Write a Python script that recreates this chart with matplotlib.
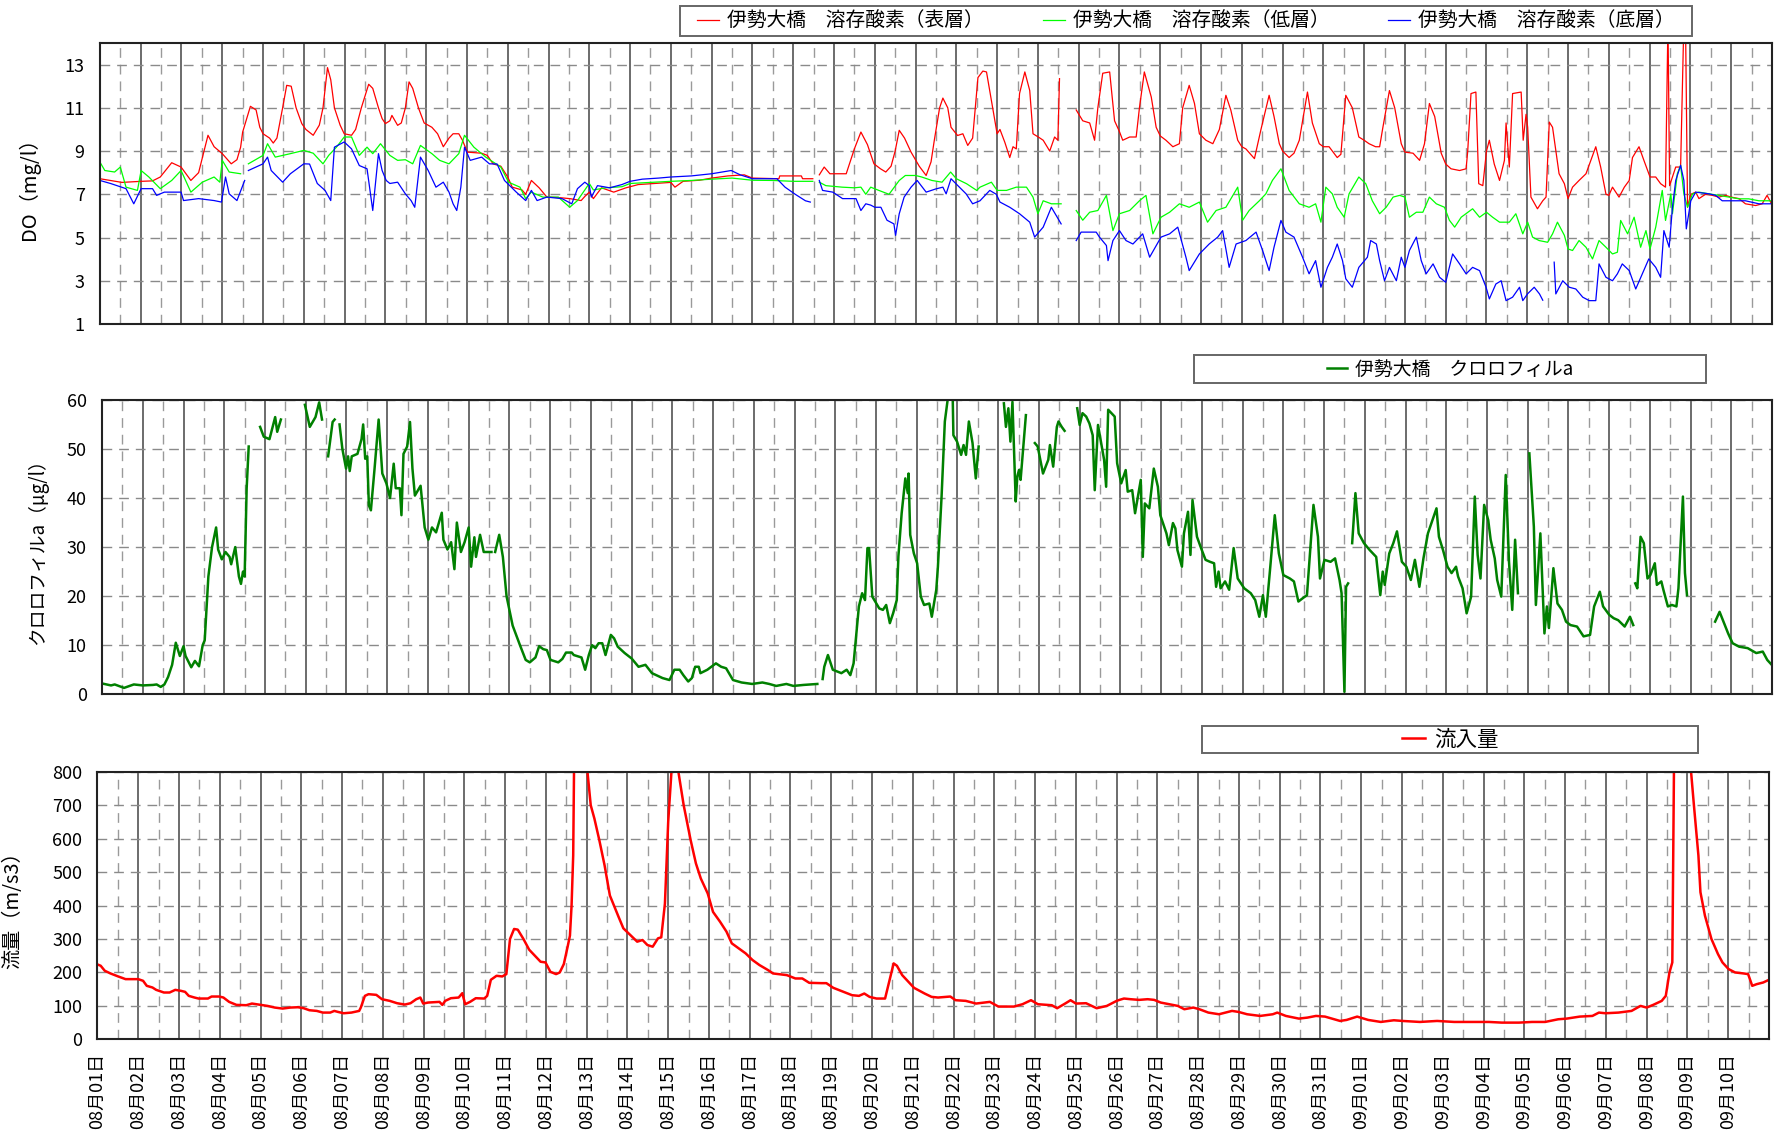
"""
伊勢大橋 水質・流入量 時系列グラフ
"""
import datetime

import numpy as np
import matplotlib
matplotlib.use("Agg")
import matplotlib.pyplot as plt
from matplotlib.patches import Rectangle
from matplotlib.ticker import MultipleLocator

plt.rcParams['font.family'] = ['Noto Sans CJK JP', 'DejaVu Sans']

NA = np.nan
START = datetime.date(2000, 8, 1)
N_DAYS = 41
day_labels = []
for i in range(N_DAYS):
    d = START + datetime.timedelta(days=i)
    day_labels.append(f"{d.month:02d}月{d.day:02d}日")

legend_do = ["伊勢大橋　溶存酸素（表層）", "伊勢大橋　溶存酸素（低層）", "伊勢大橋　溶存酸素（底層）"]
legend_chl = "伊勢大橋　クロロフィルa"
legend_flow = "流入量"

# [経過日数, 値]  (08/01 0時 = 0)
do_surface = [
    (0.00, 7.72), (0.54, 7.55), (1.01, 7.6), (1.29, 7.62), (1.48, 7.8), (1.76, 8.46), (1.99, 8.26),
    (2.23, 7.64), (2.42, 8.0), (2.65, 9.73), (2.80, 9.2), (3.00, 8.88), (3.22, 8.41), (3.36, 8.6),
    (3.45, 9.18), (3.50, 9.88), (3.69, 11.07), (3.83, 10.9), (3.92, 10.1), (4.00, 9.8), (4.16, 9.6),
    (4.25, 9.37), (4.34, 9.6), (4.48, 11.0), (4.58, 12.04), (4.69, 12.0), (4.81, 11.0), (4.95, 10.27),
    (5.05, 10.0), (5.23, 9.73), (5.38, 10.2), (5.47, 11.0), (5.58, 12.86), (5.66, 12.3), (5.75, 11.0),
    (5.89, 10.2), (5.99, 9.8), (6.17, 9.73), (6.27, 10.0), (6.41, 11.0), (6.59, 12.09), (6.69, 11.9),
    (6.83, 11.0), (6.92, 10.5), (7.00, 10.27), (7.11, 10.4), (7.16, 10.65), (7.30, 10.19), (7.39, 10.3),
    (7.49, 11.0), (7.58, 12.2), (7.67, 11.9), (7.81, 11.0), (7.95, 10.3), (8.14, 10.1), (8.28, 9.8),
    (8.42, 9.2), (8.56, 9.6), (8.66, 9.8), (8.80, 9.8), (8.89, 9.5), (9.01, 8.95), (9.36, 8.9),
    (9.50, 8.8), (9.64, 8.41), (9.83, 8.3), (10.00, 7.8), (10.11, 7.33), (10.35, 7.2), (10.44, 7.0),
    (10.58, 7.64), (10.77, 7.3), (10.96, 6.87), (11.24, 6.85), (11.52, 6.8), (11.80, 6.71), (11.89, 6.9),
    (12.00, 7.1), (12.1, 6.8), (12.3, 7.3), (12.6, 7.1), (12.9, 7.3), (13.2, 7.45), (13.6, 7.5),
    (14.0, 7.55), (14.1, 7.33), (14.3, 7.6), (14.7, 7.65), (15.0, 7.75), (15.4, 7.85), (15.8, 7.9),
    (16.0, 7.75), (16.65, 7.72), (16.67, 7.85), (17.2, 7.85), (17.23, 7.72), (17.48, 7.72), (17.56, NA),
    (17.64, 7.9), (17.76, 8.26), (17.9, 7.95), (18.3, 7.95), (18.5, 9.1), (18.66, 9.88), (18.82, 9.3),
    (18.98, 8.41), (19.14, 8.18), (19.27, 8.03), (19.4, 8.3), (19.5, 9.0), (19.6, 9.96), (19.73, 9.6),
    (19.89, 8.95), (20.09, 8.3), (20.26, 7.87), (20.38, 8.5), (20.46, 9.5), (20.59, 11.0), (20.67, 11.45),
    (20.79, 11.0), (20.87, 10.1), (21.03, 9.72), (21.16, 9.8), (21.28, 9.26), (21.4, 9.6), (21.53, 12.4),
    (21.65, 12.7), (21.74, 12.66), (21.9, 10.9), (22.0, 9.8), (22.07, 10.0), (22.19, 9.4), (22.31, 8.7),
    (22.39, 9.2), (22.47, 9.1), (22.55, 11.66), (22.68, 12.66), (22.8, 11.8), (22.88, 9.8), (23.01, 9.65),
    (23.13, 9.5), (23.29, 9.0), (23.41, 9.65), (23.49, 9.5), (23.53, 12.35), (23.7, NA), (23.94, 10.9),
    (24.1, 10.4), (24.27, 10.3), (24.39, 9.5), (24.47, 11.0), (24.59, 12.6), (24.76, 12.66), (24.88, 10.4),
    (25.0, 9.9), (25.08, 9.5), (25.25, 9.65), (25.41, 9.65), (25.49, 11.0), (25.61, 12.66), (25.78, 11.5),
    (25.9, 10.1), (26.0, 9.7), (26.14, 9.5), (26.31, 9.2), (26.47, 9.34), (26.55, 11.0), (26.71, 12.04),
    (26.84, 11.2), (26.96, 9.8), (27.12, 9.5), (27.29, 9.34), (27.45, 10.0), (27.61, 11.58), (27.73, 10.9),
    (27.9, 9.5), (28.0, 9.2), (28.1, 9.1), (28.31, 8.65), (28.47, 10.0), (28.67, 11.58), (28.79, 10.6),
    (28.92, 9.34), (29.0, 9.0), (29.16, 8.7), (29.28, 8.9), (29.41, 9.5), (29.61, 11.73), (29.73, 10.3),
    (29.9, 9.34), (30.0, 9.2), (30.14, 9.2), (30.34, 8.7), (30.43, 8.85), (30.55, 11.58), (30.71, 11.0),
    (30.87, 9.65), (31.0, 9.5), (31.12, 9.34), (31.28, 9.2), (31.38, 9.2), (31.46, 10.1), (31.62, 11.8),
    (31.75, 11.0), (31.91, 9.34), (32.0, 8.95), (32.2, 8.9), (32.36, 8.57), (32.48, 9.34), (32.6, 11.2),
    (32.73, 10.6), (32.89, 8.9), (33.0, 8.4), (33.13, 8.18), (33.34, 8.1), (33.5, 8.18), (33.54, 9.0),
    (33.62, 11.66), (33.74, 11.73), (33.81, 7.49), (33.91, 7.4), (34.0, 9.0), (34.07, 9.5), (34.19, 8.4),
    (34.32, 7.64), (34.44, 8.57), (34.48, 10.3), (34.56, 8.26), (34.64, 11.66), (34.85, 11.73), (34.9, 9.5),
    (34.97, 10.7), (35.01, 10.1), (35.09, 6.87), (35.25, 6.33), (35.38, 6.7), (35.46, 6.87), (35.54, 10.34),
    (35.62, 10.1), (35.78, 7.95), (35.91, 7.49), (36.0, 6.8), (36.11, 7.33), (36.27, 7.64), (36.44, 7.95),
    (36.68, 9.2), (36.8, 8.26), (36.93, 7.0), (37.0, 6.95), (37.09, 7.33), (37.25, 6.87), (37.38, 7.33),
    (37.5, 7.64), (37.58, 8.7), (37.74, 9.2), (37.86, 8.57), (38.01, 7.8), (38.15, 7.8), (38.27, 7.49),
    (38.39, 7.33), (38.45, 15.0), (38.49, 7.4), (38.64, 8.26), (38.76, 8.26), (38.84, 15.0), (38.88, 15.0),
    (38.93, 6.4), (39.01, 7.0), (39.13, 7.1), (39.21, 6.8), (39.37, 7.0), (39.54, 6.95), (39.7, 6.87),
    (39.86, 6.95), (40.0, 6.87), (40.19, 6.8), (40.35, 6.56), (40.6, 6.48), (40.76, 6.56), (40.88, 6.95),
    (40.99, 6.56),
]

do_lower = [
    (0.0, 8.49), (0.12, 8.1), (0.36, 8.03), (0.5, 8.26), (0.64, 7.33), (0.92, 7.18), (1.01, 8.1),
    (1.2, 7.8), (1.48, 7.26), (1.76, 7.64), (1.99, 8.1), (2.23, 7.1), (2.51, 7.56), (2.8, 7.8),
    (2.94, 7.56), (3.0, 8.57), (3.17, 8.03), (3.45, 7.95), (3.55, NA), (3.64, 8.41), (4.0, 8.8),
    (4.11, 9.34), (4.3, 8.72), (4.67, 8.88), (5.0, 9.03), (5.23, 8.9), (5.47, 8.41), (5.61, 8.8),
    (5.8, 9.18), (5.99, 9.65), (6.17, 9.65), (6.36, 8.8), (6.55, 9.18), (6.69, 8.88), (6.88, 9.34),
    (7.11, 8.8), (7.3, 8.57), (7.49, 8.6), (7.67, 8.41), (7.86, 9.26), (8.14, 8.88), (8.33, 8.57),
    (8.56, 8.41), (8.8, 8.88), (8.94, 9.73), (9.17, 9.18), (9.46, 8.72), (9.83, 8.26), (10.02, 7.56),
    (10.3, 7.33), (10.44, 6.8), (10.58, 7.1), (10.86, 6.87), (11.24, 6.87), (11.52, 6.4), (11.71, 6.71),
    (12.0, 7.5), (12.1, 7.2), (12.4, 7.3), (12.8, 7.35), (13.0, 7.5), (13.5, 7.55), (14.0, 7.6),
    (14.5, 7.64), (15.0, 7.7), (15.5, 7.75), (16.0, 7.65), (16.5, 7.64), (17.0, 7.6), (17.48, 7.6),
    (17.56, NA), (17.64, 7.56), (17.8, 7.4), (18.2, 7.33), (18.5, 7.3), (18.66, 7.33), (18.78, 7.0),
    (18.9, 7.33), (19.1, 7.18), (19.35, 7.0), (19.6, 7.64), (19.75, 7.87), (20.0, 7.87), (20.15, 7.8),
    (20.4, 7.64), (20.65, 7.56), (20.86, 8.03), (21.0, 7.72), (21.25, 7.49), (21.5, 7.18), (21.58, 7.33),
    (21.86, 7.56), (22.0, 7.18), (22.23, 7.18), (22.47, 7.33), (22.72, 7.33), (22.88, 6.87), (23.0, 6.1),
    (23.13, 6.7), (23.33, 6.56), (23.57, 6.56), (23.7, NA), (23.94, 6.25), (24.1, 5.8), (24.27, 6.17),
    (24.47, 6.25), (24.68, 6.95), (24.84, 5.32), (25.0, 6.1), (25.25, 6.25), (25.49, 6.7), (25.65, 6.95),
    (25.82, 5.17), (26.02, 5.94), (26.23, 6.17), (26.47, 6.56), (26.71, 6.4), (26.96, 6.64), (27.16, 5.71),
    (27.37, 6.25), (27.61, 6.4), (27.9, 7.33), (28.02, 5.8), (28.18, 6.25), (28.43, 6.7), (28.59, 7.02),
    (28.75, 7.64), (28.96, 8.18), (29.16, 7.18), (29.41, 6.56), (29.65, 6.4), (29.81, 6.56), (29.94, 5.71),
    (30.06, 7.33), (30.22, 7.02), (30.34, 6.4), (30.51, 5.94), (30.63, 7.02), (30.87, 7.8), (31.04, 7.49),
    (31.2, 6.7), (31.38, 6.1), (31.54, 6.4), (31.71, 6.87), (31.87, 6.95), (32.0, 6.87), (32.11, 5.94),
    (32.28, 6.17), (32.44, 6.17), (32.6, 6.87), (32.77, 6.56), (32.97, 6.4), (33.09, 5.8), (33.22, 5.48),
    (33.38, 5.94), (33.66, 6.33), (33.83, 5.94), (34.0, 6.17), (34.15, 5.94), (34.32, 5.71), (34.56, 5.71),
    (34.72, 6.1), (34.89, 5.17), (35.01, 5.71), (35.13, 5.02), (35.29, 4.86), (35.5, 4.78), (35.62, 5.17),
    (35.74, 5.71), (35.91, 5.1), (36.0, 4.47), (36.11, 4.4), (36.27, 4.86), (36.44, 4.55), (36.6, 4.01),
    (36.76, 4.86), (36.93, 4.55), (37.09, 4.24), (37.21, 4.32), (37.29, 5.79), (37.46, 5.17), (37.62, 5.94),
    (37.78, 4.55), (37.91, 5.32), (38.01, 4.47), (38.15, 5.48), (38.31, 7.18), (38.39, 5.79), (38.52, 7.02),
    (38.56, 6.1), (38.68, 7.95), (38.76, 8.34), (38.84, 7.02), (38.93, 6.4), (39.05, 7.02), (39.21, 7.1),
    (39.46, 7.02), (39.7, 6.95), (39.94, 6.87), (40.19, 6.79), (40.43, 6.79), (40.68, 6.7), (40.99, 6.7),
]

do_bottom = [
    (0.0, 7.64), (0.26, 7.5), (0.64, 7.26), (0.83, 6.56), (1.01, 7.26), (1.29, 7.26), (1.39, 6.95),
    (1.58, 7.1), (1.99, 7.1), (2.05, 6.71), (2.42, 6.8), (2.8, 6.71), (2.98, 6.64), (3.08, 7.8),
    (3.17, 7.02), (3.36, 6.71), (3.55, 7.64), (3.6, NA), (3.64, 8.1), (4.0, 8.41), (4.11, 8.72),
    (4.2, 8.1), (4.48, 7.56), (4.67, 7.95), (5.0, 8.41), (5.14, 8.4), (5.33, 7.5), (5.52, 7.18),
    (5.66, 6.71), (5.75, 9.18), (5.99, 9.42), (6.17, 9.1), (6.36, 8.33), (6.55, 8.18), (6.69, 6.25),
    (6.83, 8.88), (6.92, 8.1), (7.02, 7.64), (7.11, 7.5), (7.3, 7.56), (7.49, 7.02), (7.63, 6.71),
    (7.72, 6.4), (7.86, 8.72), (8.05, 8.1), (8.24, 7.33), (8.42, 7.56), (8.56, 7.1), (8.66, 6.56),
    (8.75, 6.25), (8.85, 7.33), (8.94, 9.18), (9.08, 8.57), (9.36, 8.72), (9.55, 8.41), (9.74, 8.4),
    (9.92, 7.64), (10.21, 7.1), (10.44, 6.71), (10.58, 7.18), (10.72, 6.71), (10.96, 6.87), (11.33, 6.8),
    (11.57, 6.56), (11.71, 7.26), (11.89, 7.56), (12.0, 7.4), (12.05, 6.87), (12.2, 7.4), (12.5, 7.3),
    (12.8, 7.45), (13.0, 7.6), (13.3, 7.7), (13.7, 7.75), (14.0, 7.8), (14.5, 7.85), (15.0, 7.95),
    (15.48, 8.1), (15.7, 7.9), (16.0, 7.72), (16.6, 7.72), (16.8, 7.33), (17.05, 7.0), (17.3, 6.7),
    (17.42, 6.64), (17.56, NA), (17.64, 7.64), (17.72, 7.18), (17.97, 7.1), (18.21, 6.8), (18.54, 6.8),
    (18.66, 6.25), (18.78, 6.56), (18.9, 6.5), (19.0, 6.4), (19.15, 6.4), (19.3, 5.8), (19.47, 5.63),
    (19.51, 5.1), (19.6, 6.1), (19.72, 6.87), (19.89, 7.33), (20.04, 7.64), (20.26, 7.1), (20.5, 7.25),
    (20.67, 7.33), (20.75, 7.02), (20.87, 7.72), (20.99, 7.49), (21.24, 7.02), (21.4, 6.56), (21.58, 6.7),
    (21.82, 7.18), (21.98, 7.0), (22.07, 6.64), (22.31, 6.4), (22.55, 6.1), (22.8, 5.71), (22.92, 5.02),
    (23.13, 5.48), (23.33, 6.4), (23.57, 5.63), (23.7, NA), (23.94, 4.86), (24.06, 5.25), (24.43, 5.25),
    (24.51, 5.02), (24.68, 4.63), (24.72, 3.93), (24.84, 4.86), (25.0, 5.32), (25.16, 4.86), (25.33, 4.7),
    (25.57, 5.17), (25.74, 4.09), (26.02, 5.02), (26.23, 5.17), (26.43, 5.48), (26.63, 4.09), (26.71, 3.47),
    (26.96, 4.24), (27.2, 4.7), (27.41, 5.02), (27.53, 5.32), (27.69, 3.62), (27.86, 4.7), (28.1, 4.86),
    (28.35, 5.25), (28.51, 4.4), (28.67, 3.47), (28.79, 4.55), (28.96, 5.79), (29.08, 5.25), (29.28, 5.02),
    (29.49, 4.09), (29.65, 3.32), (29.81, 3.93), (29.94, 2.7), (30.1, 3.62), (30.22, 4.09), (30.34, 4.7),
    (30.47, 3.93), (30.55, 3.09), (30.71, 2.7), (30.87, 3.62), (31.08, 4.09), (31.16, 4.86), (31.3, 4.7),
    (31.38, 3.93), (31.5, 3.0), (31.62, 3.62), (31.79, 3.0), (31.91, 4.09), (32.0, 3.62), (32.11, 4.4),
    (32.28, 5.02), (32.4, 3.93), (32.52, 3.32), (32.69, 3.78), (32.85, 3.16), (33.0, 2.93), (33.17, 4.24),
    (33.34, 3.78), (33.5, 3.32), (33.66, 3.62), (33.83, 3.47), (33.99, 2.7), (34.07, 2.16), (34.23, 2.85),
    (34.36, 3.0), (34.48, 2.08), (34.64, 2.24), (34.81, 2.7), (34.89, 2.08), (35.01, 2.4), (35.17, 2.7),
    (35.3, 2.39), (35.38, 2.1), (35.5, NA), (35.66, 3.86), (35.7, 2.39), (35.87, 3.0), (36.03, 2.7),
    (36.19, 2.62), (36.36, 2.24), (36.52, 2.08), (36.68, 2.08), (36.76, 3.78), (36.93, 3.16), (37.09, 3.0),
    (37.21, 3.32), (37.33, 3.78), (37.5, 3.47), (37.66, 2.62), (37.82, 3.32), (37.98, 4.01), (38.15, 3.62),
    (38.27, 3.16), (38.35, 5.32), (38.48, 4.55), (38.56, 6.4), (38.64, 7.64), (38.76, 8.34), (38.84, 7.64),
    (38.9, 5.4), (39.01, 6.7), (39.13, 7.1), (39.46, 7.02), (39.62, 6.95), (39.78, 6.7), (40.03, 6.7),
    (40.35, 6.7), (40.68, 6.56), (40.99, 6.56),
]

chlorophyll = [
    (0.0, 2.2), (0.22, 1.8), (0.31, 2.0), (0.54, 1.3), (0.78, 2.0), (1.0, 1.8), (1.25, 1.9), (1.34, 2.0),
    (1.44, 1.5), (1.53, 2.0), (1.62, 3.5), (1.72, 6.0), (1.81, 10.5), (1.91, 7.8), (2.0, 9.8), (2.05, 7.8),
    (2.19, 5.5), (2.28, 6.8), (2.38, 5.7), (2.47, 10.0), (2.52, 11.0), (2.61, 24.0), (2.7, 30.0),
    (2.8, 34.0), (2.85, 29.5), (2.94, 27.5), (3.03, 29.0), (3.13, 28.0), (3.17, 26.5), (3.27, 30.0),
    (3.36, 24.0), (3.41, 22.5), (3.46, 25.0), (3.5, 24.0), (3.55, 42.0), (3.6, 50.5), (3.7, NA),
    (3.88, 54.5), (3.97, 52.5), (4.11, 52.0), (4.25, 56.5), (4.3, 53.5), (4.39, 56.0), (4.6, NA),
    (4.98, 59.0), (5.1, 54.5), (5.24, 56.5), (5.33, 59.5), (5.4, 56.0), (5.5, NA),
    (5.55, 48.5), (5.66, 55.5), (5.71, 56.0), (5.77, NA),
    (5.83, 55.0), (5.9, 50.0), (5.99, 46.0), (6.04, 48.5), (6.08, 45.5), (6.13, 48.5), (6.27, 49.0),
    (6.37, 52.0), (6.41, 55.0), (6.46, 48.0), (6.51, 48.5), (6.55, 38.5), (6.6, 37.5), (6.69, 46.0),
    (6.79, 56.0), (6.88, 45.0), (6.98, 43.0), (7.07, 40.0), (7.16, 47.0), (7.21, 42.0), (7.31, 42.0),
    (7.35, 36.5), (7.4, 49.0), (7.49, 50.5), (7.56, 55.5), (7.62, 46.0), (7.68, 40.5), (7.82, 42.5),
    (7.92, 34.0), (8.01, 31.5), (8.1, 34.0), (8.2, 33.0), (8.34, 37.0), (8.38, 31.5), (8.48, 29.5),
    (8.57, 31.0), (8.65, 25.5), (8.71, 35.0), (8.81, 29.0), (8.9, 31.0), (9.0, 34.0), (9.06, 26.0),
    (9.14, 32.0), (9.18, 28.0), (9.28, 32.5), (9.37, 29.0), (9.56, 29.0), (9.6, NA), (9.65, 29.0),
    (9.75, 32.5), (9.84, 28.0), (9.93, 20.0), (10.08, 14.0), (10.26, 10.0), (10.4, 7.0), (10.5, 6.5),
    (10.64, 7.5), (10.73, 9.8), (10.83, 9.2), (10.92, 9.0), (11.01, 7.0), (11.2, 6.5), (11.3, 7.2),
    (11.39, 8.5), (11.53, 8.5), (11.58, 8.0), (11.77, 7.5), (11.86, 5.0), (11.95, 8.0),
    (12.03, 10.0), (12.11, 9.4), (12.19, 10.4), (12.28, 10.4), (12.36, 8.0), (12.49, 12.1), (12.57, 11.4),
    (12.66, 9.7), (12.83, 8.4), (13.0, 7.3), (13.17, 5.6), (13.34, 6.0), (13.5, 4.3), (13.76, 3.3),
    (13.93, 2.9), (14.05, 5.0), (14.18, 5.0), (14.27, 3.9), (14.39, 2.6), (14.48, 3.3), (14.56, 5.6),
    (14.65, 5.6), (14.69, 4.3), (14.86, 5.0), (15.07, 6.3), (15.2, 5.6), (15.32, 5.3), (15.49, 2.9),
    (15.7, 2.4), (15.96, 2.1), (16.21, 2.4), (16.38, 2.1), (16.55, 1.7), (16.8, 2.1), (16.97, 1.7),
    (17.22, 1.9), (17.56, 2.1), (17.62, NA),
    (17.69, 3.1), (17.73, 5.6), (17.82, 8.0), (17.94, 5.0), (18.15, 4.3), (18.28, 5.0), (18.37, 3.9),
    (18.45, 6.3), (18.58, 17.9), (18.66, 20.6), (18.73, 19.2), (18.79, 29.8), (18.83, 29.8), (18.91, 19.9),
    (19.08, 17.5), (19.17, 17.2), (19.25, 18.2), (19.34, 14.5), (19.42, 16.5), (19.51, 19.2), (19.55, 28.1),
    (19.63, 36.9), (19.72, 44.0), (19.78, 41.0), (19.8, 45.0), (19.84, 32.5), (19.93, 28.7), (20.01, 26.7),
    (20.1, 19.9), (20.18, 18.2), (20.31, 18.5), (20.37, 15.8), (20.48, 21.3), (20.52, 26.0), (20.61, 40.3),
    (20.69, 55.6), (20.79, 62.0), (20.88, 62.0), (20.9, 52.8), (20.99, 51.5), (21.09, 48.8), (21.15, 50.8),
    (21.21, 48.8), (21.28, 55.6), (21.37, 51.2), (21.45, 44.0), (21.52, 50.5), (21.9, NA),
    (22.14, 59.3), (22.19, 54.5), (22.25, 58.3), (22.3, 51.5), (22.35, 59.6), (22.43, 39.3), (22.47, 44.4),
    (22.51, 45.7), (22.55, 43.7), (22.68, 56.9), (22.8, NA),
    (22.9, 51.2), (22.97, 50.5), (23.1, 45.0), (23.23, 47.8), (23.27, 50.8), (23.35, 46.4), (23.44, 54.5),
    (23.48, 55.6), (23.56, 54.5), (23.63, 53.7), (23.8, NA),
    (23.94, 58.3), (24.0, 54.9), (24.07, 57.3), (24.16, 56.6), (24.24, 55.2), (24.32, 52.8), (24.37, 41.6),
    (24.45, 54.9), (24.6, 47.8), (24.65, 42.3), (24.7, 58.0), (24.86, 56.6), (24.92, 47.1), (25.02, 43.0),
    (25.13, 45.7), (25.18, 41.3), (25.29, 41.6), (25.36, 36.9), (25.5, 43.7), (25.55, 28.0), (25.6, 38.9),
    (25.71, 37.9), (25.82, 46.0), (25.92, 42.3), (25.98, 36.5), (26.13, 32.8), (26.19, 30.4), (26.29, 34.9),
    (26.35, 33.8), (26.4, 29.4), (26.51, 26.0), (26.56, 32.8), (26.66, 37.2), (26.72, 28.4), (26.77, 39.6),
    (26.88, 32.1), (26.98, 29.8), (27.09, 27.4), (27.2, 27.0), (27.3, 26.7), (27.35, 21.9), (27.41, 25.0),
    (27.46, 21.6), (27.57, 23.0), (27.67, 21.3), (27.78, 29.8), (27.88, 23.6), (28.04, 21.6), (28.2, 20.6),
    (28.31, 19.2), (28.41, 15.8), (28.5, 20.2), (28.57, 15.8), (28.68, 26.0), (28.79, 36.5), (28.89, 28.7),
    (29.0, 24.3), (29.16, 23.6), (29.26, 23.0), (29.37, 18.9), (29.48, 19.6), (29.58, 20.2), (29.74, 38.6),
    (29.85, 32.1), (29.9, 23.6), (30.01, 27.4), (30.16, 27.0), (30.27, 27.7), (30.38, 23.3), (30.43, 20.6),
    (30.5, 0.5), (30.54, 21.9), (30.59, 22.6), (30.65, NA),
    (30.69, 30.8), (30.77, 41.0), (30.85, 32.8), (30.98, 30.8), (31.12, 29.4), (31.28, 28.0), (31.38, 20.2),
    (31.44, 25.0), (31.49, 22.3), (31.6, 28.7), (31.7, 30.8), (31.79, 33.2), (31.91, 27.0), (32.02, 26.0),
    (32.13, 23.3), (32.23, 27.4), (32.34, 21.9), (32.44, 27.7), (32.55, 32.8), (32.66, 35.5), (32.76, 37.9),
    (32.82, 32.1), (32.92, 29.4), (33.03, 26.0), (33.13, 24.7), (33.24, 26.0), (33.29, 24.0), (33.4, 21.6),
    (33.5, 16.5), (33.61, 19.9), (33.7, 40.3), (33.77, 28.4), (33.84, 23.6), (33.93, 38.6), (34.03, 35.5),
    (34.09, 31.5), (34.19, 27.7), (34.25, 23.3), (34.35, 19.9), (34.46, 44.7), (34.54, 27.0), (34.62, 17.2),
    (34.69, 31.5), (34.76, 20.6), (34.9, NA),
    (35.04, 49.1), (35.15, 34.2), (35.2, 18.2), (35.31, 32.8), (35.41, 12.4), (35.47, 17.9), (35.52, 13.5),
    (35.63, 25.7), (35.73, 18.5), (35.84, 17.2), (35.94, 14.8), (36.05, 14.1), (36.21, 13.8), (36.37, 11.8),
    (36.53, 12.1), (36.63, 17.9), (36.77, 20.9), (36.85, 17.9), (37.0, 16.2), (37.11, 15.5), (37.22, 15.1),
    (37.38, 13.8), (37.51, 15.8), (37.59, 14.1), (37.62, NA),
    (37.64, 22.6), (37.69, 21.6), (37.77, 32.1), (37.85, 30.8), (37.94, 23.6), (38.01, 24.3), (38.12, 26.7),
    (38.17, 22.3), (38.28, 23.0), (38.33, 21.3), (38.44, 17.9), (38.54, 18.2), (38.65, 17.9), (38.7, 21.6),
    (38.81, 40.3), (38.86, 24.7), (38.91, 20.2), (39.2, NA),
    (39.6, 14.8), (39.71, 16.8), (39.82, 14.5), (39.92, 12.4), (40.03, 10.4), (40.19, 9.7), (40.4, 9.4),
    (40.61, 8.4), (40.77, 8.7), (40.88, 7.0), (40.99, 6.0),
]

inflow = [
    (0.0, 224), (0.08, 220), (0.18, 205), (0.32, 197), (0.51, 188), (0.69, 180), (1.0, 180), (1.12, 175),
    (1.21, 160), (1.35, 155), (1.44, 148), (1.63, 140), (1.77, 140), (1.91, 148), (2.05, 145), (2.15, 142),
    (2.24, 130), (2.38, 125), (2.48, 122), (2.71, 122), (2.8, 128), (2.99, 128), (3.09, 125), (3.23, 112),
    (3.41, 103), (3.65, 102), (3.79, 107), (4.01, 103), (4.17, 100), (4.35, 95), (4.54, 92), (4.73, 95),
    (4.92, 96), (5.06, 93), (5.2, 87), (5.38, 85), (5.53, 80), (5.71, 80), (5.81, 85), (5.9, 82),
    (6.04, 78), (6.23, 80), (6.42, 85), (6.46, 95), (6.56, 130), (6.65, 135), (6.84, 133), (6.98, 120),
    (7.17, 115), (7.35, 108), (7.54, 104), (7.68, 108), (7.82, 120), (7.92, 125), (7.99, 107), (8.11, 110),
    (8.39, 112), (8.46, 103), (8.53, 115), (8.67, 123), (8.86, 125), (8.95, 138), (9.02, 105), (9.14, 112),
    (9.28, 123), (9.49, 122), (9.56, 130), (9.65, 178), (9.79, 190), (9.93, 188), (10.03, 195), (10.12, 300),
    (10.22, 330), (10.31, 328), (10.45, 300), (10.59, 268), (10.73, 250), (10.87, 232), (10.99, 230),
    (11.11, 202), (11.25, 195), (11.34, 200), (11.44, 225), (11.53, 275), (11.59, 310), (11.63, 400),
    (11.67, 550), (11.69, 800), (11.8, 1300), (11.95, 950), (12.02, 800), (12.1, 700), (12.19, 660),
    (12.31, 596), (12.44, 520), (12.57, 430), (12.65, 406), (12.78, 367), (12.9, 332), (13.07, 312),
    (13.24, 292), (13.37, 297), (13.49, 282), (13.62, 277), (13.75, 302), (13.83, 305), (13.92, 406),
    (14.0, 650), (14.08, 800), (14.15, 1100), (14.25, 800), (14.38, 700), (14.55, 596), (14.68, 526),
    (14.8, 481), (14.97, 436), (15.1, 381), (15.27, 352), (15.43, 322), (15.56, 287), (15.73, 272),
    (15.9, 257), (16.07, 237), (16.24, 222), (16.45, 207), (16.57, 197), (16.91, 192), (17.12, 182),
    (17.29, 182), (17.46, 169), (17.76, 168), (17.88, 168), (18.05, 154), (18.26, 144), (18.51, 132),
    (18.68, 130), (18.81, 137), (18.94, 127), (19.11, 122), (19.32, 122), (19.4, 162), (19.53, 227),
    (19.61, 220), (19.74, 192), (19.91, 170), (20.03, 154), (20.29, 137), (20.46, 127), (20.62, 125),
    (20.92, 128), (21.05, 117), (21.3, 115), (21.55, 107), (21.89, 112), (22.1, 98), (22.48, 98),
    (22.69, 105), (22.9, 117), (23.07, 105), (23.41, 102), (23.54, 93), (23.75, 108), (23.87, 117),
    (24.0, 107), (24.25, 108), (24.51, 93), (24.76, 100), (25.0, 115), (25.07, 118), (25.18, 122),
    (25.34, 120), (25.55, 118), (25.76, 120), (25.92, 118), (26.08, 110), (26.29, 105), (26.5, 100),
    (26.66, 90), (26.88, 95), (27.03, 90), (27.25, 80), (27.51, 75), (27.67, 80), (27.83, 85), (27.99, 82),
    (28.2, 75), (28.52, 70), (28.83, 75), (28.94, 80), (29.15, 70), (29.47, 62), (29.68, 65), (29.89, 70),
    (30.11, 68), (30.48, 55), (30.64, 58), (30.9, 68), (31.17, 58), (31.48, 52), (31.8, 57), (32.01, 55),
    (32.44, 52), (32.86, 55), (33.28, 52), (33.71, 52), (34.13, 52), (34.45, 50), (34.87, 50), (35.19, 52),
    (35.51, 52), (35.83, 60), (36.04, 62), (36.36, 68), (36.67, 70), (36.83, 80), (36.99, 78), (37.31, 80),
    (37.63, 85), (37.85, 100), (38.0, 95), (38.16, 103), (38.37, 115), (38.47, 130), (38.56, 200),
    (38.63, 230), (38.67, 800), (38.85, 1500), (39.09, 800), (39.16, 700), (39.27, 550), (39.32, 440),
    (39.43, 370), (39.59, 300), (39.75, 255), (39.86, 230), (40.01, 210), (40.17, 200), (40.38, 197),
    (40.49, 195), (40.59, 160), (40.7, 165), (40.86, 170), (41.0, 178),
]


def to_xy(pairs):
    arr = np.array(pairs, dtype=float)
    return arr[:, 0], arr[:, 1]


def style_axes(ax, ylim, yticks, show_dates=False):
    ax.set_xlim(0, N_DAYS)
    ax.set_ylim(*ylim)
    ax.set_xticks(range(N_DAYS))
    ax.xaxis.set_minor_locator(MultipleLocator(0.5))
    ax.set_yticks(yticks)
    ax.grid(which='major', axis='x', color='#444444', lw=1.1, ls='-')
    ax.grid(which='minor', axis='x', color='#9a9a9a', lw=1.0, ls=(0, (7, 5)))
    ax.grid(which='major', axis='y', color='#8a8a8a', lw=1.0, ls=(0, (7, 5)))
    ax.set_axisbelow(True)
    ax.tick_params(which='both', length=0)
    ax.tick_params(axis='y', labelsize=13, pad=11)
    for sp in ax.spines.values():
        sp.set_color('#222222')
        sp.set_linewidth(1.5)
    if show_dates:
        ax.set_xticklabels(day_labels, rotation=90, fontsize=13)
        ax.tick_params(axis='x', pad=10)
    else:
        ax.set_xticklabels([])


def legend_box(fig, rect, handles, labels, size, ncol=1, colsp=2.0):
    x0, y0, w, h = rect
    fig.add_artist(Rectangle((x0, y0), w, h, transform=fig.transFigure,
                             facecolor='white', edgecolor='#666666', lw=1.4, zorder=5))
    leg = fig.legend(handles, labels, loc='center', bbox_to_anchor=(x0 + w / 2, y0 + h / 2),
                     ncol=ncol, frameon=False, fontsize=size, handlelength=1.1,
                     handletextpad=0.4, columnspacing=colsp, borderpad=0)
    leg.set_zorder(6)


fig = plt.figure(figsize=(17.78, 11.40), dpi=100)
ax1 = fig.add_axes([0.0562, 0.7158, 0.9404, 0.2465])
ax2 = fig.add_axes([0.0574, 0.3910, 0.9393, 0.2582])
ax3 = fig.add_axes([0.0548, 0.0883, 0.9401, 0.2347])

# 溶存酸素
t, v = to_xy(do_surface)
l1, = ax1.plot(t, v, color='#ff0000', lw=0.9)
t, v = to_xy(do_lower)
l2, = ax1.plot(t, v, color='#00ff00', lw=0.9)
t, v = to_xy(do_bottom)
l3, = ax1.plot(t, v, color='#0000ff', lw=0.9)
style_axes(ax1, (1, 14), np.arange(1, 14, 2))
ax1.set_ylabel("DO（mg/l）", fontsize=14.5)
ax1.yaxis.set_label_coords(-0.036, 0.5)

# クロロフィルa
t, v = to_xy(chlorophyll)
l4, = ax2.plot(t, v, color='#008000', lw=1.8)
style_axes(ax2, (0, 60), np.arange(0, 61, 10))
ax2.set_ylabel("クロロフィルa（μg/l）", fontsize=13.5)
ax2.yaxis.set_label_coords(-0.032, 0.5)

# 流入量
t, v = to_xy(inflow)
l5, = ax3.plot(t, v, color='#ff0000', lw=1.8)
style_axes(ax3, (0, 800), np.arange(0, 801, 100), show_dates=True)
ax3.set_ylabel("流量（m/s3）", fontsize=14.5)
ax3.yaxis.set_label_coords(-0.0446, 0.5)

legend_box(fig, (0.3825, 0.9684, 0.5692, 0.0263), [l1, l2, l3], legend_do, 14.2, ncol=3, colsp=3.0)
legend_box(fig, (0.6715, 0.6640, 0.2880, 0.0246), [l4], [legend_chl], 13.6)
legend_box(fig, (0.6760, 0.3395, 0.2790, 0.0237), [l5], [legend_flow], 15.5)

fig.savefig("out.png", dpi=100)
